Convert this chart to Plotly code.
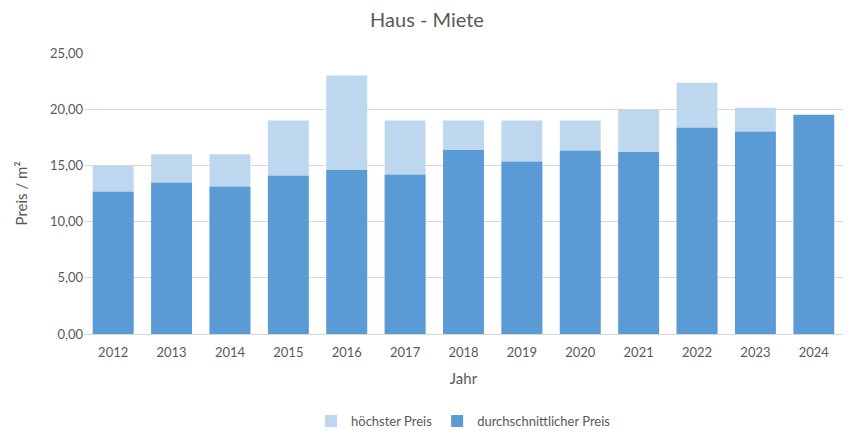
import plotly.graph_objects as go

years = ["2012", "2013", "2014", "2015", "2016", "2017", "2018", "2019", "2020", "2021", "2022", "2023", "2024"]
hoechster_preis = [15.0, 16.0, 16.0, 19.0, 23.0, 19.0, 19.0, 19.0, 19.0, 20.0, 22.35, 20.12, None]
durchschnitt_preis = [12.65, 13.45, 13.1, 14.07, 14.6, 14.16, 16.38, 15.32, 16.3, 16.2, 18.34, 17.99, 19.5]

font_family = "Lato, 'Open Sans', sans-serif"
text_color = "#595959"

fig = go.Figure()
fig.add_trace(go.Bar(x=years, y=hoechster_preis, name="höchster Preis",
                     marker=dict(color="#BDD7EE", line=dict(width=0))))
fig.add_trace(go.Bar(x=years, y=durchschnitt_preis, name="durchschnittlicher Preis",
                     marker=dict(color="#5B9BD5", line=dict(width=0))))

fig.update_layout(
    width=854, height=434,
    barmode="overlay", bargap=0.3,
    separators=",.",
    paper_bgcolor="white", plot_bgcolor="white",
    margin=dict(l=84, r=11, t=53, b=100, autoexpand=False),
    font=dict(family=font_family, color=text_color, size=13),
    title=dict(text="Haus - Miete", x=0.5, xanchor="center", y=0.955, yanchor="middle",
               font=dict(size=20, color=text_color, family=font_family)),
    showlegend=True,
    legend=dict(orientation="h", x=0.5, xanchor="center", y=-0.31, yanchor="middle",
                font=dict(size=13, color=text_color), traceorder="normal", itemwidth=30),
    xaxis=dict(title=dict(text="Jahr", font=dict(size=15, color=text_color), standoff=14),
               showline=True, linecolor="#D9D9D9", linewidth=1, ticks="",
               ticklabelstandoff=6,
               tickfont=dict(size=13, color=text_color), showgrid=False, automargin=False),
    yaxis=dict(title=dict(text="Preis / m²", font=dict(size=15, color=text_color), standoff=18),
               range=[0, 25], dtick=5, tickformat=".2f",
               showgrid=True, gridcolor="#D9D9D9", gridwidth=1, zeroline=False,
               tickfont=dict(size=13, color=text_color), showline=False, automargin=False),
)

fig.write_html("out.html")
